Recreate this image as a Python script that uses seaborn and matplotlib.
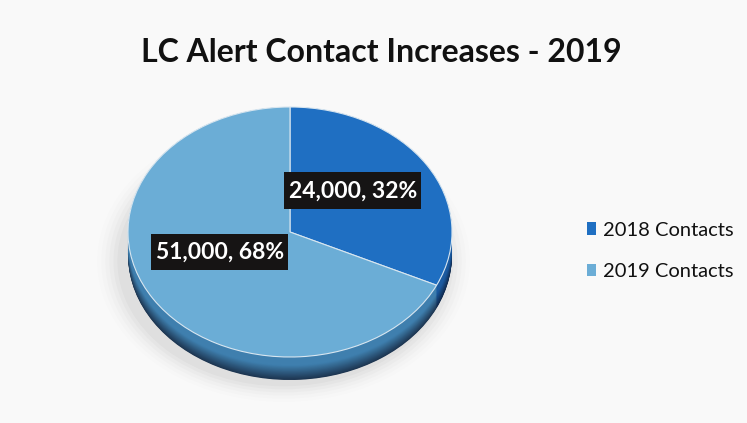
import numpy as np
import matplotlib
matplotlib.use("Agg")
import matplotlib.pyplot as plt
import seaborn as sns
from matplotlib.patches import Patch, Ellipse
from matplotlib.path import Path

# ---- data ----
categories = ["2018 Contacts", "2019 Contacts"]
values = [24000, 51000]
title = "LC Alert Contact Increases - 2019"

# ---- style ----
sns.set_theme(style="white")
plt.rcParams['font.family'] = ['Lato', 'DejaVu Sans']

top_colors = ["#1f6fc2", "#6badd6"]
side_top = ["#1b5aa0", "#3f7fae"]
side_bot = ["#10284a", "#1d3550"]
bg = "#f9f9f9"

W, H = 747, 423
fig = plt.figure(figsize=(W / 100, H / 100), dpi=100, facecolor=bg)

# axes in pixel layout
ax_l, ax_r, ax_t, ax_b = 118, 462, 98, 390
ax = fig.add_axes([ax_l / W, 1 - ax_b / H, (ax_r - ax_l) / W, (ax_b - ax_t) / H])
ax.set_facecolor("none")
rx_px, ry_px, cx_px, cy_px = 162, 125, 290, 232
depth = 23 / ry_px

total = sum(values)
pcts = [v / total * 100 for v in values]

# soft shadow
for i, a in enumerate(np.linspace(0.05, 0.015, 6)):
    e = Ellipse((-0.04, -depth - 0.05), 2.05 + i * 0.05, 2.0 + i * 0.05,
                facecolor="#7a7a7a", edgecolor="none", alpha=a, zorder=0,
                clip_on=False)
    ax.add_patch(e)

# 3D side: stacked pies going down
N = 40
for k, off in enumerate(np.linspace(depth, 0.0, N)):
    t = k / (N - 1)
    cols = []
    for c0, c1 in zip(side_bot, side_top):
        r0 = np.array(matplotlib.colors.to_rgb(c0))
        r1 = np.array(matplotlib.colors.to_rgb(c1))
        cols.append(tuple(r0 + (r1 - r0) * min(1.0, t * 1.6)))
    ax.pie(values, colors=cols, startangle=90, counterclock=False,
           center=(0, -off), radius=1.0, frame=False,
           wedgeprops=dict(linewidth=0, antialiased=True), normalize=True)
    for w in ax.patches[-2:]:
        w.set_zorder(1)

# top face
wedges, _ = ax.pie(values, colors=top_colors, startangle=90, counterclock=False,
                   center=(0, 0), radius=1.0, frame=False,
                   wedgeprops=dict(linewidth=0.8, edgecolor="#d8e6f0"),
                   normalize=True)
for w in wedges:
    w.set_zorder(2)

ax.set_xlim((ax_l - cx_px) / rx_px, (ax_r - cx_px) / rx_px)
ax.set_ylim(-(ax_b - cy_px) / ry_px, (cy_px - ax_t) / ry_px)
ax.set_aspect("auto")
ax.axis("off")


# asymmetric box for data labels (pixels -> points at dpi 100)
def label_box(x0, y0, width, height, mutation_size):
    px = 0.72  # points per pixel
    padl, padr, pady = 7 * px, 5 * px, 11 * px
    x0, x1 = x0 - padl, x0 + width + padr
    y0, y1 = y0 - pady, y0 + height + pady
    return Path([(x0, y0), (x1, y0), (x1, y1), (x0, y1), (x0, y0)], closed=True)


label_pos = [(0.39, 0.33), (-0.43, -0.16)]
for (x, y), v, p in zip(label_pos, values, pcts):
    ax.text(x, y, f"{v:,}, {p:.0f}%", ha="center", va="center",
            color="white", fontsize=16.5, fontweight="bold", zorder=5,
            bbox=dict(boxstyle=label_box, facecolor="#161414",
                      edgecolor="none"))

# title
fig.text(381 / W, 1 - 53 / H, title, ha="center", va="center",
         fontsize=23, fontweight="bold", color="#111111")

# legend
handles = [Patch(facecolor=c, edgecolor="none") for c in top_colors]
fig.legend(handles, categories, loc="center left",
           bbox_to_anchor=(587 / W, 1 - 251 / H), frameon=False,
           borderaxespad=0, borderpad=0,
           fontsize=14.5, handlelength=0.45, handleheight=0.6,
           handletextpad=0.35, labelspacing=1.2, labelcolor="#111111")

fig.savefig("out.png", dpi=100, facecolor=bg)
